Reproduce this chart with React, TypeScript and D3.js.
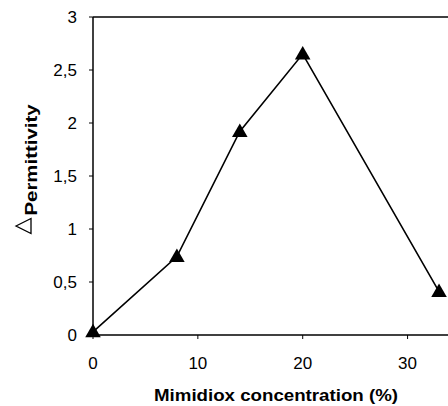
import React from "react";
import * as d3 from "d3";

const concentration = [0, 8, 14, 20, 33];
const permittivity = [0.03, 0.74, 1.92, 2.65, 0.41];
const yTicks = [0, 0.5, 1, 1.5, 2, 2.5, 3];
const xTicks = [0, 10, 20, 30];

export default function App() {
  const W = 448, H = 406;
  const x = d3.scaleLinear().domain([0, 35]).range([93, 460]);
  const y = d3.scaleLinear().domain([0, 3]).range([335, 17]);
  const line = d3.line<number>().x((_, i) => x(concentration[i])).y((d) => y(d));
  const fmt = (v: number) => String(v).replace(".", ",");
  const tri = d3.symbol().type(d3.symbolTriangle).size(105)();
  const font = "Arial, 'Liberation Sans', sans-serif";
  return (
    <svg width={W} height={H} style={{ position: "absolute", left: 0, top: 0, background: "#fff" }}>
      <rect width={W} height={H} fill="#fff" />
      <line x1={x(0)} x2={W} y1={y(3)} y2={y(3)} stroke="#000" strokeWidth={1.5} />
      <line x1={x(0)} x2={x(0)} y1={y(3)} y2={y(0)} stroke="#000" strokeWidth={1.5} />
      <line x1={x(0)} x2={W} y1={y(0)} y2={y(0)} stroke="#000" strokeWidth={1.5} />
      {yTicks.map((t) => (
        <g key={"y" + t}>
          <line x1={x(0) - 4} x2={x(0)} y1={y(t)} y2={y(t)} stroke="#000" strokeWidth={1} />
          <text x={77} y={y(t)} dy="0.35em" textAnchor="end" fontFamily={font} fontSize={17}>{fmt(t)}</text>
        </g>
      ))}
      {xTicks.map((t) => (
        <g key={"x" + t}>
          <line x1={x(t)} x2={x(t)} y1={y(0)} y2={y(0) + 4} stroke="#000" strokeWidth={1} />
          <text x={x(t)} y={363} dy="0.35em" textAnchor="middle" fontFamily={font} fontSize={17}>{t}</text>
        </g>
      ))}
      <path d={line(permittivity) || ""} fill="none" stroke="#000" strokeWidth={1.6} />
      {permittivity.map((v, i) => (
        <path key={i} d={tri || ""} transform={`translate(${x(concentration[i])},${y(v) + 1})`} fill="#000" />
      ))}
      <text x={276} y={395} dy="0.35em" textAnchor="middle" fontFamily={font} fontSize={16} fontWeight="bold"
        textLength={244} lengthAdjust="spacingAndGlyphs">Mimidiox concentration (%)</text>
      <g transform="translate(37,160) rotate(-90)">
        <text x={0} y={0} textAnchor="middle" fontFamily={font} fontSize={16} fontWeight="bold"
          textLength={111} lengthAdjust="spacingAndGlyphs">Permittivity</text>
      </g>
      <path d="M16,226 L31,218.5 L31,233.5 Z" fill="none" stroke="#000" strokeWidth={1.3} strokeLinejoin="miter" />
    </svg>
  );
}
